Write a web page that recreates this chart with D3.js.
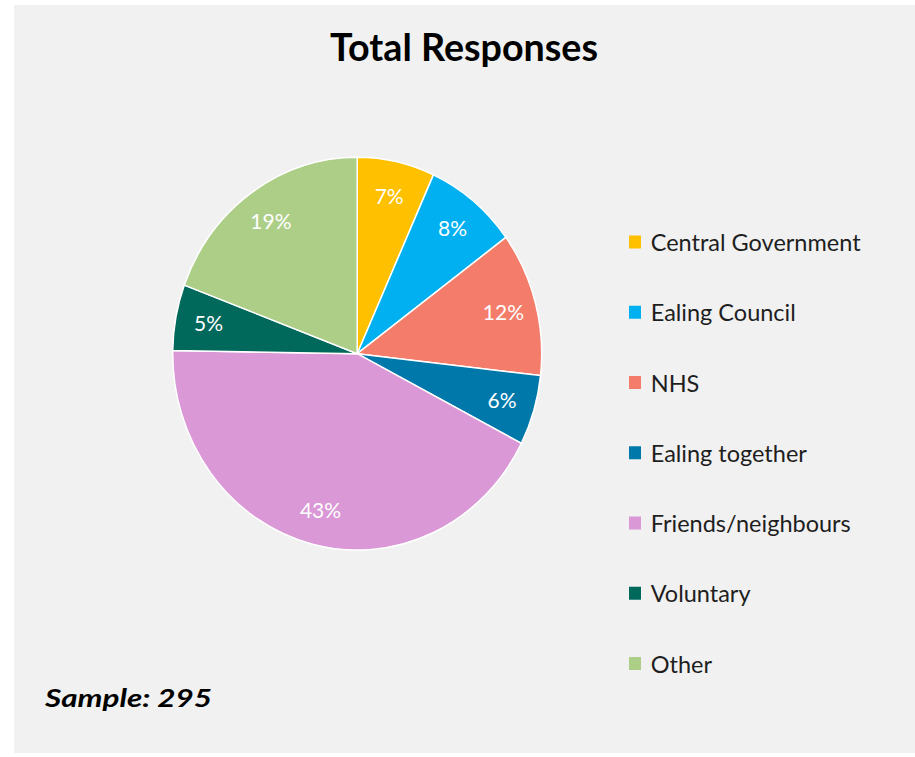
<!DOCTYPE html>
<html>
<head>
<meta charset="utf-8">
<script src="https://cdn.jsdelivr.net/npm/d3@7"></script>
<style>
  html, body { margin: 0; padding: 0; background: #ffffff; }
  svg { display: block; }
</style>
</head>
<body>
<svg id="chart" width="915" height="757"></svg>
<script>
// Response counts by source (sample of 295)
const categories = ["Central Government", "Ealing Council", "NHS", "Ealing together",
                    "Friends/neighbours", "Voluntary", "Other"];
const counts = [20, 24, 35, 17, 126, 16, 57];
const colors = ["#FFC000", "#00B0F0", "#F47C6A", "#0078A9", "#DA98D6", "#00695C", "#ADCE87"];
const titleText = "Total Responses";
const sampleSize = 295;

const svg = d3.select("#chart");
const font = "Lato, 'Open Sans', sans-serif";

// panel background
svg.append("rect")
  .attr("x", 14).attr("y", 5)
  .attr("width", 901).attr("height", 748)
  .attr("fill", "#f1f1f1");

// title
svg.append("text")
  .attr("x", 464).attr("y", 61)
  .attr("text-anchor", "middle")
  .attr("font-family", font)
  .attr("font-weight", 700)
  .attr("font-size", 38)
  .attr("textLength", 268)
  .attr("lengthAdjust", "spacingAndGlyphs")
  .attr("fill", "#000")
  .text(titleText);

// pie (slightly taller than wide)
const cx = 357.2, cy = 353.7, rx = 184.5, ry = 196.4;
const sy = ry / rx;
const total = d3.sum(counts);

const pie = d3.pie().sort(null).value(d => d);
const arcs = pie(counts);
const arc = d3.arc().innerRadius(0).outerRadius(rx);

const g = svg.append("g")
  .attr("transform", `translate(${cx},${cy}) scale(1,${sy})`);

g.selectAll("path")
  .data(arcs)
  .join("path")
  .attr("d", arc)
  .attr("fill", (d, i) => colors[i])
  .attr("stroke", "#ffffff")
  .attr("stroke-width", 1.5)
  .attr("vector-effect", "non-scaling-stroke");

// percentage labels inside each slice
const labelArc = d3.arc().innerRadius(rx * 0.82).outerRadius(rx * 0.82);
svg.append("g")
  .selectAll("text")
  .data(arcs)
  .join("text")
  .attr("x", d => cx + labelArc.centroid(d)[0])
  .attr("y", d => cy + labelArc.centroid(d)[1] * sy)
  .attr("dy", "0.36em")
  .attr("text-anchor", "middle")
  .attr("font-family", font)
  .attr("font-size", 21)
  .attr("fill", "#ffffff")
  .text(d => Math.round(d.value / total * 100) + "%");

// legend
const legendY = d3.scalePoint()
  .domain(categories)
  .range([242, 663.5]);

const legend = svg.append("g");
const items = legend.selectAll("g")
  .data(categories)
  .join("g")
  .attr("transform", d => `translate(0,${legendY(d)})`);

items.append("rect")
  .attr("x", 629).attr("y", -6.5)
  .attr("width", 12).attr("height", 13)
  .attr("fill", (d, i) => colors[i]);

const legendText = items.append("text")
  .attr("x", 0).attr("y", 0)
  .attr("font-family", font)
  .attr("font-size", 22.5)
  .attr("fill", "#1e1e1e")
  .text(d => d);

// keep the legend text width in proportion with the longest label
const refWidth = legendText.nodes()[0].getComputedTextLength();
const k = 210 / refWidth;
legendText.attr("transform", `translate(650.7,9) scale(${k},1)`);

// sample size note
svg.append("text")
  .attr("x", 45).attr("y", 707)
  .attr("font-family", font)
  .attr("font-weight", 700)
  .attr("font-style", "italic")
  .attr("font-size", 25.5)
  .attr("textLength", 167)
  .attr("lengthAdjust", "spacingAndGlyphs")
  .attr("fill", "#000")
  .text("Sample: " + sampleSize);
</script>
</body>
</html>
